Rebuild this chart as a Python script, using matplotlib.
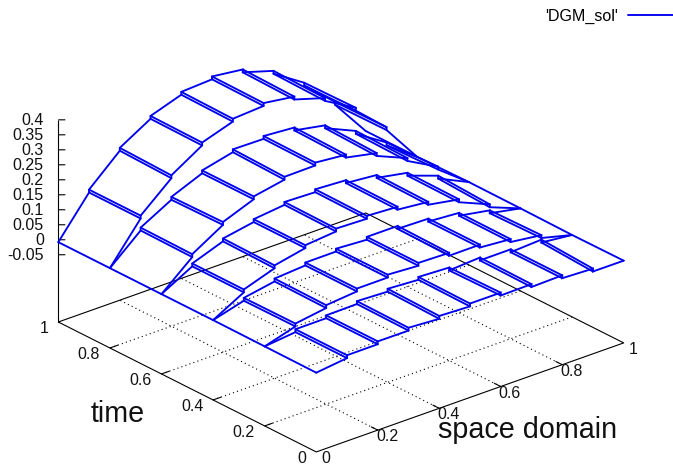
import matplotlib
matplotlib.use("Agg")
import matplotlib.pyplot as plt
from mpl_toolkits.mplot3d import proj3d

plt.rcParams['font.family'] = ['Liberation Sans', 'DejaVu Sans']

# ---------- data ----------
space_nodes = [0, .1, .2, .3, .4, .5, .6, .7, .8, .9, 1]
# time slabs: (t at the start curve, t at the end curve)
slab_times = [(1.0, .8), (.8, .6), (.6, .4), (.4, .2), (.2, 0.0)]

z_s1_a = [-.008, .126, .229, .299, .343, .358, .345, .304, .228, .128, -.001]
z_s1_b = [-.008, .126, .224, .297, .340, .356, .341, .300, .231, .130, -.001]
z_s2_a = [-.008, .086, .152, .204, .238, .246, .238, .209, .154, .079, -.001]
z_s2_b = [-.008, .084, .155, .204, .233, .244, .234, .203, .150, .085, .002]
z_s3_a = [-.008, .053, .100, .128, .149, .155, .149, .130, .101, .055, .002]
z_s3_b = [-.008, .053, .097, .128, .147, .153, .147, .127, .099, .046, .001]
z_s4_a = [-.008, .025, .053, .070, .080, .083, .083, .071, .054, .026, .001]
z_s4_b = [-.009, .026, .051, .070, .080, .083, .080, .071, .053, .030, -.001]
z_s5_a = [-.009, .007, .017, .028, .033, .036, .031, .028, .019, .015, -.001]
z_s5_b = [-.010, .007, .017, .026, .029, .034, .034, .026, .019, .005, .000]
# jump of the solution across each interior space node
node_jump = [0, .0095, .0095, .0095, .0095, .0095, -.0095, -.0095, -.0095, -.0095, 0]

slabs = [(z_s1_a, z_s1_b), (z_s2_a, z_s2_b), (z_s3_a, z_s3_b),
         (z_s4_a, z_s4_b), (z_s5_a, z_s5_b)]

xy_ticks = [0, .2, .4, .6, .8, 1]
xy_tick_labels = ['0', '0.2', '0.4', '0.6', '0.8', '1']
z_ticks = [-.05, 0, .05, .1, .15, .2, .25, .3, .35, .4]
z_tick_labels = ['-0.05', '0', '0.05', '0.1', '0.15', '0.2', '0.25', '0.3', '0.35', '0.4']
z_floor = -.2743
z_top = .4

series_label = "'DGM_sol'"
x_label = 'space domain'
t_label = 'time'

# ---------- figure ----------
W, H = 673, 467
BLUE = '#0000f0'
fig = plt.figure(figsize=(W / 100, H / 100), dpi=100)
ax = fig.add_axes([.1, .1, .8, .8], projection='3d', proj_type='ortho',
                  computed_zorder=False)
ax.view_init(elev=25, azim=-130)
ax.set_box_aspect((1, 1, 222.9 / 401))
ax.set_xlim(0, 1)
ax.set_ylim(0, 1)
ax.set_zlim(z_floor, z_top)
ax.set_axis_off()
ax.patch.set_visible(False)
ax.autoscale(False)


def to_px(x, t, z):
    u, v, _ = proj3d.proj_transform(x, t, z, ax.get_proj())
    px, py = ax.transData.transform((u, v))
    return px, H - py


# fit the 3-D box on the figure: corners (x=0,t=1) and (x=1,t=0)
fig.canvas.draw()
x0, y0 = to_px(0, 1, z_floor)
x1, y1 = to_px(1, 0, z_floor)
target_w = 623.7 - 58.3
scale = target_w / (x1 - x0)
bb = ax.get_position()
side = bb.width * W * scale
ax.set_position([.1, .1, side / W, side / H])
fig.canvas.draw()
x0, y0 = to_px(0, 1, z_floor)
bb = ax.get_position()
ax.set_position([bb.x0 + (58.3 - x0) / W, bb.y0 - (322.0 - y0) / H, bb.width, bb.height])
fig.canvas.draw()

black = dict(color='black', lw=.8, clip_on=False, zorder=2, solid_capstyle='butt')
dots = dict(color='black', lw=.8, clip_on=False, zorder=1, linestyle=(0, (1, 2.8)))

# base frame
ax.plot([0, 1, 1, 0, 0], [1, 1, 0, 0, 1], [z_floor] * 5, **black)
# z axis
ax.plot([0, 0], [1, 1], [z_floor, z_top], **black)

# grid and base ticks
tick_frac = .026
for v in xy_ticks[1:-1]:
    ax.plot([0, 1], [v, v], [z_floor, z_floor], **dots)
    ax.plot([v, v], [0, 1], [z_floor, z_floor], **dots)
    ax.plot([0, tick_frac], [v, v], [z_floor, z_floor], **black)
    ax.plot([v, v], [0, tick_frac], [z_floor, z_floor], **black)

# z ticks pointing horizontally to the right on screen
for v in z_ticks:
    ax.plot([0, .0134], [1, 1 - .0112], [v, v], **black)

# surface
line = dict(color=BLUE, lw=1.35, clip_on=False, zorder=3, solid_joinstyle='miter',
            solid_capstyle='round')
first = True
for (t_a, t_b), (z_a, z_b) in zip(slab_times, slabs):
    for t_c, z_c in ((t_a, z_a), (t_b, z_b)):
        xs, ys, zs = [], [], []
        for x, z, j in zip(space_nodes, z_c, node_jump):
            xs += [x, x]
            ys += [t_c, t_c]
            zs += [z - j / 2, z + j / 2]
        ax.plot(xs, ys, zs, label=series_label if first else None, **line)
        first = False
    for x, za, zb, j in zip(space_nodes, z_a, z_b, node_jump):
        ax.plot([x, x], [t_a, t_b], [za - j / 2, zb - j / 2], **line)
        if j:
            ax.plot([x, x], [t_a, t_b], [za + j / 2, zb + j / 2], **line)


def label_px(px, py, s, size, ha='center'):
    fig.text(px / W, 1 - py / H, s, fontsize=size, ha=ha, va='center', color='#111111')


tick_size = 11.5
for v, s in zip(xy_ticks, xy_tick_labels):
    px, py = to_px(0, v, z_floor)
    label_px(px - 9.7, py + 6.6, s, tick_size, ha='right')
    px, py = to_px(v, 0, z_floor)
    label_px(px + 9.2, py + 6.5, s, tick_size)
for v, s in zip(z_ticks, z_tick_labels):
    px, py = to_px(0, 1, v)
    label_px(px - 14.5, py + .3, s, tick_size, ha='right')

label_px(118, 413.5, t_label, 20.7)
label_px(528, 430, x_label, 20.7)

ax.legend(loc='upper right', bbox_to_anchor=(1.0, 1 - 9 / H),
          bbox_transform=fig.transFigure, frameon=False, markerfirst=False,
          fontsize=11.5, borderaxespad=0, borderpad=0,
          handlelength=2.82, handletextpad=.6)

fig.savefig('out.png', dpi=100)
